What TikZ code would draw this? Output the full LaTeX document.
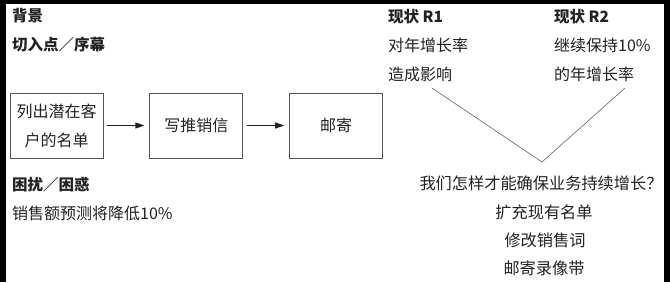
\documentclass[tikz,border=0pt]{standalone}
\usepackage{fontspec}
\setmainfont{Noto Sans CJK SC}
\usetikzlibrary{arrows.meta,positioning}
\definecolor{ink}{HTML}{222222}
\definecolor{boxgray}{HTML}{555555}
\definecolor{linegray}{HTML}{666666}

\begin{document}
\begin{tikzpicture}[
  x=1pt, y=-1pt,
  font=\fontsize{16}{29}\selectfont, text=ink,
  >={Triangle[length=9pt,width=6pt]},
  stepbox/.style={draw=boxgray, line width=0.8pt, align=center,
    minimum width=93pt, minimum height=65pt, inner sep=2pt},
  head/.style={anchor=west, inner sep=0pt, font=\fontsize{15.5}{20}\selectfont\bfseries},
  plain/.style={anchor=west, inner sep=0pt},
  answer/.style={inner sep=0pt, font=\fontsize{16.2}{29}\selectfont},
  flow/.style={->, line width=0.8pt, draw=ink, shorten <=4pt, shorten >=5pt},
  vline/.style={draw=linegray, line width=0.6pt}
]
% page with the dark scan edges
\fill[black] (0,0) rectangle (670,282);
\fill[white] (6,4) rectangle (664,282);
\useasboundingbox (0,0) rectangle (670,282);

% left part: background and entry point
\node[head] (bg) at (12,16) {背景};
\node[head] (entry) at (12,45) {切入点／序幕};

\node[stepbox] (list) at (56.5,125.5) {列出潜在客\\户的名单};
\node[stepbox, right=46pt of list] (letter) {写推销信};
\node[stepbox, right=46pt of letter] (mail) {邮寄};

\foreach \a/\b in {list/letter,letter/mail}
  \draw[flow] (\a) -- (\b);

\node[head] (trouble) at (12,185) {困扰／困惑};
\node[plain] (forecast) at (12,213) {销售额预测将降低10\%};

% right part: two situations
\node[head] (r1) at (388,17) {现状\ R1};
\node[plain] (r1a) at (388,45) {对年增长率};
\node[plain] (r1b) at (388,74) {造成影响};

\node[head] (r2) at (554,17) {现状\ R2};
\node[plain] (r2a) at (554,45) {继续保持10\%};
\node[plain] (r2b) at (554,74) {的年增长率};

\coordinate (r1end) at (432,88);
\coordinate (r2end) at (625,88);
\coordinate (apex) at (542,162);
\draw[vline] (r1end) -- (apex) -- (r2end);

% question and answers
\node[answer] (question) at (541,183) {我们怎样才能确保业务持续增长？};
\node[answer] (ans1) at (544,212) {扩充现有名单};
\node[answer] (ans2) at (545,240) {修改销售词};
\node[answer] (ans3) at (544,268) {邮寄录像带};

\end{tikzpicture}
\end{document}
